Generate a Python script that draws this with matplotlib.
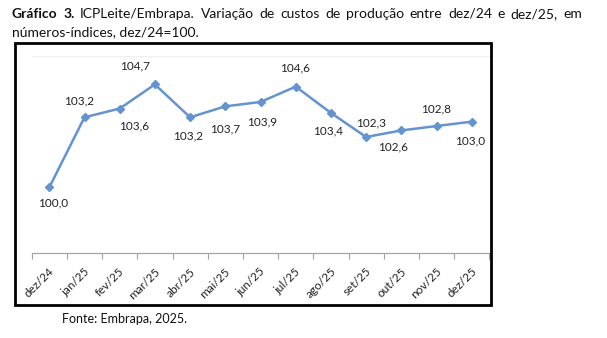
import matplotlib.pyplot as plt
from matplotlib.patches import Rectangle
from matplotlib.transforms import ScaledTranslation

plt.rcParams['font.family'] = ['Lato', 'DejaVu Sans']

# dados
meses = ['dez/24', 'jan/25', 'fev/25', 'mar/25', 'abr/25', 'mai/25', 'jun/25',
         'jul/25', 'ago/25', 'set/25', 'out/25', 'nov/25', 'dez/25']
indice = [100.0, 103.2, 103.6, 104.7, 103.2, 103.7, 103.9,
          104.6, 103.4, 102.3, 102.6, 102.8, 103.0]

titulo_negrito = 'Gráfico 3.'
titulo_linha1 = 'ICPLeite/Embrapa. Variação de custos de produção entre dez/24 e dez/25, em'
titulo_linha2 = 'números-índices, dez/24=100.'
fonte = 'Fonte: Embrapa, 2025.'

W, H = 607, 338
fig = plt.figure(figsize=(W / 100, H / 100), dpi=100)

# eixo (posicoes em pixels da imagem)
x0, x1, y_top, y_bot = 31.7, 489.3, 56, 253
ax = fig.add_axes([x0 / W, 1 - y_bot / H, (x1 - x0) / W, (y_bot - y_top) / H])

cor = '#6394D0'
x = list(range(len(meses)))
ax.plot(x, indice, color=cor, lw=1.8, marker='D', ms=4.5, mec=cor, mfc=cor)

ax.set_xlim(-0.5, len(meses) - 0.5)
ax.set_ylim(97, 106)
ax.set_yticks([])

ax.set_xticks(x)
ax.set_xticklabels(meses, rotation=45, ha='right', va='center',
                   rotation_mode='anchor', fontsize=8.5, color='#222222')
ax.tick_params(axis='x', which='major', length=0, pad=12)
desl = ScaledTranslation(3 / 100, 0, fig.dpi_scale_trans)
for lab in ax.get_xticklabels():
    lab.set_transform(lab.get_transform() + desl)
ax.set_xticks([i - 0.5 for i in range(len(meses) + 1)], minor=True)
ax.tick_params(axis='x', which='minor', length=4, color='#A0A0A0', width=0.8)

for s in ['left', 'right']:
    ax.spines[s].set_visible(False)
ax.spines['top'].set_color('#EFEFEF')
ax.spines['top'].set_linewidth(0.8)
ax.spines['bottom'].set_color('#A6A6A6')
ax.spines['bottom'].set_linewidth(0.9)

# rotulos dos pontos (deslocamento em pixels: dx, dy para baixo)
desloc = [(4, 16), (-5, -16), (14, 17), (-20, -19), (-2, 19), (0, 23), (2, 20),
          (-1, -19), (-3, 18), (5, -14), (-8, 16), (0, -17), (-2, 19)]
for i, v in enumerate(indice):
    dx, dy = desloc[i]
    ax.annotate(f'{v:.1f}'.replace('.', ','), (i, v), xytext=(dx, -dy),
                textcoords='offset pixels', ha='center', va='center',
                fontsize=8.5, color='#222222')

# moldura do grafico
fig.patches.append(Rectangle((15 / W, 1 - 305 / H), (491 - 15) / W, (305 - 43) / H,
                             transform=fig.transFigure, fill=False,
                             ec='black', lw=2))

# titulo justificado
renderer = fig.canvas.get_renderer()
tam = 10
palavras = [(w, 'bold') for w in titulo_negrito.split()] + \
           [(w, 'normal') for w in titulo_linha1.split()]
textos = []
larg = 0
for w, peso in palavras:
    t = fig.text(0, 1 - 18 / H, w, fontsize=tam, fontweight=peso,
                 va='baseline', color='#111111')
    bb = t.get_window_extent(renderer)
    textos.append((t, bb.width))
    larg += bb.width
esp = (582 - 12 - larg) / (len(textos) - 1)
pos = 12
for t, lw in textos:
    t.set_x(pos / W)
    pos += lw + esp

fig.text(12 / W, 1 - 36 / H, titulo_linha2, fontsize=tam, va='baseline',
         color='#111111')
fig.text(62 / W, 1 - 319 / H, fonte, fontsize=9, va='center', color='#111111')

fig.savefig('out.png', dpi=100)
